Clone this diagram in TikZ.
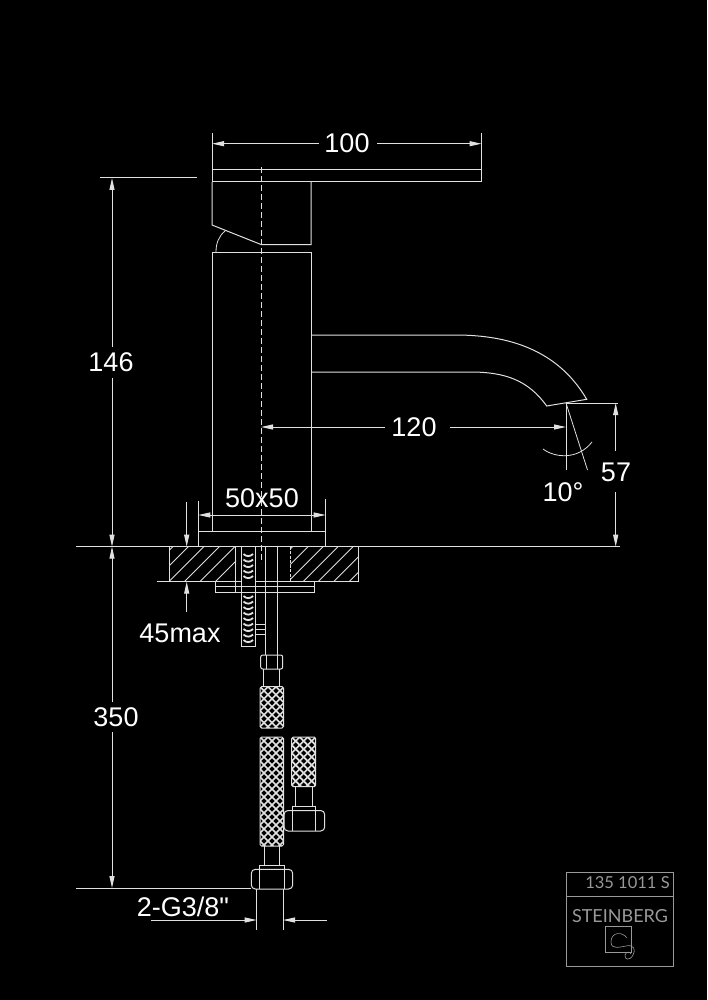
\documentclass[tikz,border=0pt]{standalone}
\usepackage{fontspec}
\newfontfamily\dimfont{Liberation Sans}
\newfontfamily\thinfont{Lato}
\usetikzlibrary{arrows.meta}
\definecolor{ln}{gray}{0.88}
\definecolor{tb}{gray}{0.6}
\tikzset{
 line/.style={draw=ln,line width=1pt},
 thin line/.style={draw=ln,line width=0.8pt},
 dim/.style={draw=ln,line width=1pt},
 dimarrow/.style={draw=ln,line width=1pt,-{Triangle[length=12pt,width=5pt,fill=ln]}},
 dimlabel/.style={text=white,font=\dimfont\fontsize{27}{28}\selectfont,inner sep=0pt},
 tbline/.style={draw=tb,line width=0.8pt},
 hatch/.style={draw=ln,line width=0.8pt},
 mesh/.style={draw=ln,line width=1.7pt}
}
\newcommand{\meshbox}[4]{%
 \begin{scope}
  \clip[rounded corners=1.5pt] (#1,#2) rectangle (#3,#4);
  \foreach \k in {-160,-152,...,200}{
   \draw[mesh] ({#1+\k},#2) -- ++(170,170);
   \draw[mesh] ({#1+\k},#2) -- ++(-170,170);
  }
 \end{scope}
 \draw[line,rounded corners=1.5pt] (#1,#2) rectangle (#3,#4);
}
\begin{document}
\begin{tikzpicture}[x=1pt,y=-1pt]
\path[fill=black,use as bounding box] (0,0) rectangle (707,1000);
% handle
\draw[line] (212,169.5) rectangle (481.5,182);
\draw[line] (212,182) -- (212,225) -- (261,244.5) -- (311,244.5) -- (311,182);
\draw[thin line] (225,231) .. controls (219,236) and (216,243) .. (216,252);
% body
\draw[line] (212,531.7) -- (212,252) -- (311.7,252) -- (311.7,531.7);
\draw[line] (198.3,531.7) rectangle (325.7,546.7);
% centre line
\draw[thin line,dash pattern=on 6pt off 3pt] (261,167) -- (261,563);
% spout
\draw[line] (311.7,335) -- (455,335) .. controls (500,335) and (555,345) .. (586.7,399.3) -- (546.7,406) .. controls (528,380) and (505,372) .. (470,372) -- (311.7,372);
% ground
\draw[line] (76,546.7) -- (620,546.7);
% counter top
\begin{scope}
 \clip (169,546.7) rectangle (236,581.7);
 \foreach \k in {157.3,172.8,188.3,203.8,219.3,234.8,250.3}{\draw[hatch] (\k,546.7) -- ++(-40,40);}
\end{scope}
\begin{scope}
 \clip (290,546.7) rectangle (358,581.7);
 \foreach \k in {292.5,308,323,338,353,368.5,384}{\draw[hatch] (\k,546.7) -- ++(-40,40);}
\end{scope}
\draw[thin line] (169,546.7) -- (169,581.7);
\draw[thin line] (358,546.7) -- (358,581.7);
\draw[thin line,dash pattern=on 3pt off 1.5pt] (290,546.7) -- (290,581.7);
\draw[line] (157,581.7) -- (235.7,581.7);
\draw[line] (277.7,581.7) -- (358,581.7);
\draw[line] (235.7,546.7) -- (235.7,592);
\draw[line] (215,581.7) rectangle (314,592);
% threaded rod
\path[fill=black] (241,546.7) rectangle (255.3,646);
\draw[line] (241,546.7) -- (241,646) -- (255.3,646) -- (255.3,546.7);
\foreach \yy in {554,559.5,...,582,596,601.5,...,644}{
 \draw[draw=ln,line width=1.8pt] (243.5,\yy) .. controls (246.5,\yy+2.8) and (250,\yy+2.8) .. (253,\yy);
}
\path[fill=black] (242,581) rectangle (254.5,594);
\draw[thin line] (255.3,624) rectangle (265.3,634);
\draw[thin line] (255.3,629) -- (265.3,629);
% pipe
\draw[line] (265.3,546.7) -- (265.3,655);
\draw[line] (277.7,546.7) -- (277.7,655);
\draw[line] (215,586.7) -- (314,586.7);
\draw[line] (215,592) -- (314,592);
% top nut
\draw[line,rounded corners=2pt] (260.7,655) rectangle (282.7,669);
\draw[thin line] (266,655) -- (266,669);
\draw[thin line] (277.5,655) -- (277.5,669);
\draw[line] (263.3,669) -- (263.3,686.7);
\draw[line] (279.3,669) -- (279.3,686.7);
% hoses
\meshbox{260}{686.7}{283.5}{728}
\meshbox{260}{737}{283.5}{846}
\meshbox{291.7}{737}{315.7}{786.7}
% main lower connector
\draw[line] (264.3,846) -- (264.3,865);
\draw[line] (279,846) -- (279,865);
\draw[line] (259.3,869) -- (259.3,865) -- (284,865) -- (284,869);
\draw[line,rounded corners=4pt] (251.3,869.3) rectangle (292.7,889);
\draw[thin line] (259.3,869.3) -- (259.3,889);
\draw[thin line] (284,869.3) -- (284,889);
% side lower connector
\draw[line] (295,786.7) -- (295,806);
\draw[line] (312.7,786.7) -- (312.7,806);
\draw[line] (292,810.5) -- (292,806) -- (315,806) -- (315,810.5);
\draw[line,rounded corners=4pt] (284,810.5) rectangle (324.7,831);
\draw[thin line] (292,810.5) -- (292,831);
\draw[thin line] (315,810.5) -- (315,831);
% dimension 100
\draw[dim] (212,133) -- (212,169.5);
\draw[dim] (481.5,133) -- (481.5,169.5);
\node[dimlabel] (d100) at (347,143) {100};
\coordinate (a100l) at (212,143.7);
\coordinate (a100r) at (481.5,143.7);
\draw[dimarrow] (319,143.7) -- (a100l);
\draw[dimarrow] (377,143.7) -- (a100r);
% dimension 146
\draw[dim] (100,178) -- (197,178);
\node[dimlabel] (d146) at (111,362) {146};
\coordinate (a146t) at (112,178);
\coordinate (a146b) at (112,546.7);
\draw[dimarrow] (112,347) -- (a146t);
\draw[dimarrow] (112,378) -- (a146b);
% dimension 350
\node[dimlabel] (d350) at (116,717) {350};
\coordinate (a350b) at (112,888);
\draw[dimarrow] (112,702) -- (a146b);
\draw[dimarrow] (112,732) -- (a350b);
\draw[line] (76,888.5) -- (251.3,888.5);
% dimension 120
\node[dimlabel] (d120) at (414,427) {120};
\coordinate (a120l) at (261,427);
\coordinate (a120r) at (566,427);
\draw[dimarrow] (385,427) -- (a120l);
\draw[dimarrow] (450,427) -- (a120r);
% angle
\coordinate (tip) at (566,403);
\draw[dim] (tip) -- (566,470);
\draw[thin line] (tip) -- (587.5,470);
\draw[thin line] (543,449) .. controls (555,458) and (578,460) .. (592,442);
\draw[dim] (tip) -- (618,403);
\node[dimlabel] (d10) at (563,492) {10°};
% dimension 57
\node[dimlabel] (d57) at (616,472) {57};
\coordinate (a57t) at (615.7,403);
\coordinate (a57b) at (615.7,546.7);
\draw[dimarrow] (615.7,451) -- (a57t);
\draw[dimarrow] (615.7,492) -- (a57b);
% dimension 50x50
\node[dimlabel] (d50) at (262,498) {50x50};
\draw[dim] (198.3,501) -- (198.3,531.7);
\draw[dim] (325.7,499) -- (325.7,531.7);
\coordinate (a50l) at (198.3,515);
\coordinate (a50r) at (325.7,515);
\draw[dimarrow] (262,515) -- (a50l);
\draw[dimarrow] (262,515) -- (a50r);
% dimension 45
\node[dimlabel] (d45) at (180,633) {45max};
\coordinate (a45t) at (186.7,546.7);
\coordinate (a45b) at (186.7,581.7);
\draw[dimarrow] (186.7,502) -- (a45t);
\draw[dimarrow] (186.7,612) -- (a45b);
% dimension G3/8
\node[dimlabel] (dg) at (183,907) {2-G3/8"};
\draw[dim] (256.7,889) -- (256.7,930);
\draw[dim] (283,889) -- (283,930);
\coordinate (agl) at (256.7,920);
\coordinate (agr) at (283,920);
\draw[dimarrow] (150.7,920) -- (agl);
\draw[dimarrow] (326.7,920) -- (agr);
% title block
\draw[tbline] (566.3,872.3) rectangle (673.3,966.3);
\draw[tbline] (566.3,896) -- (673.3,896);
\node[text=tb,font=\thinfont\fontsize{16.5}{17}\selectfont,inner sep=0pt] (code) at (627.5,882.7) {135 1011 S};
\node[text=tb,font=\thinfont\fontsize{18}{19}\selectfont,inner sep=0pt] (brand) at (620,915.7) {STEINBERG};
\draw[tbline,line width=0.5pt] (605,926) rectangle (631.7,952.3);
\draw[tbline,line width=0.6pt] (627,938) .. controls (622,931) and (611,932) .. (611,942) .. controls (611,950) and (620,947) .. (626,946) .. controls (634,944) and (636,950) .. (633,955) .. controls (630,961) and (624,960) .. (625,955) .. controls (626,951) and (631,952) .. (631,954);
\end{tikzpicture}
\end{document}
